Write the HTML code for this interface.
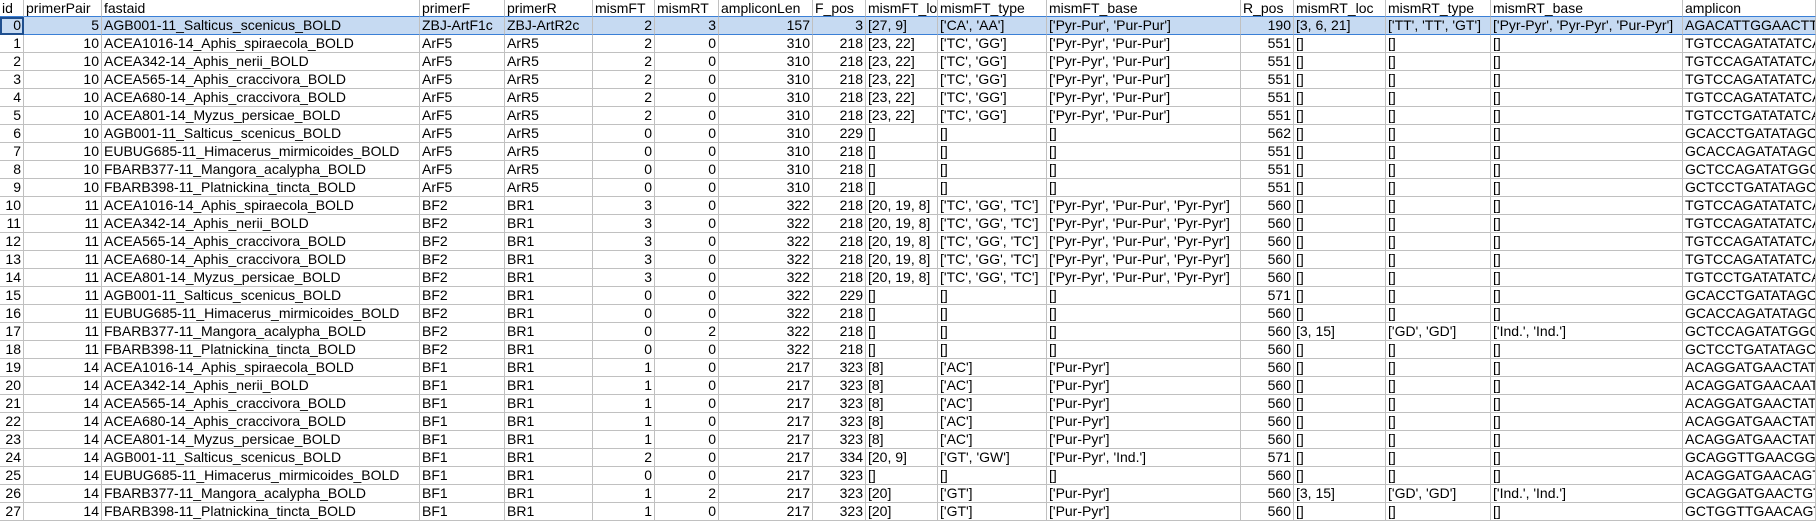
<!DOCTYPE html>
<html><head><meta charset="utf-8">
<style>
html,body{margin:0;padding:0;background:#fff;width:1816px;height:522px;overflow:hidden}
#sheet{position:absolute;left:0;top:0;width:1816px;height:522px;overflow:hidden;font-family:"Liberation Sans",sans-serif;font-size:14px;color:#000}
.c{position:absolute;box-sizing:border-box;border-right:1px solid #c0c0c0;border-bottom:1px solid #c0c0c0;white-space:nowrap;overflow:hidden;padding:0 2px;line-height:17px}
.n{text-align:right}
.sel{background:#c6daf2}
.selrow{border-bottom:1px solid #3a7fd6}
.hdr{border-bottom:1px solid #3a7fd6}
.cur{outline:2px solid #1f4f8f;outline-offset:-2px}
</style></head>
<body>
<div id="sheet"></div>
<script>
const headers=["id","primerPair","fastaid","primerF","primerR","mismFT","mismRT","ampliconLen","F_pos","mismFT_loc","mismFT_type","mismFT_base","R_pos","mismRT_loc","mismRT_type","mismRT_base","amplicon"];
const colX=[0,24,102,420,505,593,655,719,813,866,938,1047,1241,1294,1386,1491,1683,1816];
const numeric=[1,1,0,0,0,1,1,1,1,0,0,0,1,0,0,0,0];
const rows=[
[0,5,"AGB001-11_Salticus_scenicus_BOLD","ZBJ-ArtF1c","ZBJ-ArtR2c",2,3,157,3,"[27, 9]","['CA', 'AA']","['Pyr-Pur', 'Pur-Pur']",190,"[3, 6, 21]","['TT', 'TT', 'GT']","['Pyr-Pyr', 'Pyr-Pyr', 'Pur-Pyr']","AGACATTGGAACTTTAT"],
[1,10,"ACEA1016-14_Aphis_spiraecola_BOLD","ArF5","ArR5",2,0,310,218,"[23, 22]","['TC', 'GG']","['Pyr-Pyr', 'Pur-Pur']",551,"[]","[]","[]","TGTCCAGATATATCAA"],
[2,10,"ACEA342-14_Aphis_nerii_BOLD","ArF5","ArR5",2,0,310,218,"[23, 22]","['TC', 'GG']","['Pyr-Pyr', 'Pur-Pur']",551,"[]","[]","[]","TGTCCAGATATATCAA"],
[3,10,"ACEA565-14_Aphis_craccivora_BOLD","ArF5","ArR5",2,0,310,218,"[23, 22]","['TC', 'GG']","['Pyr-Pyr', 'Pur-Pur']",551,"[]","[]","[]","TGTCCAGATATATCAA"],
[4,10,"ACEA680-14_Aphis_craccivora_BOLD","ArF5","ArR5",2,0,310,218,"[23, 22]","['TC', 'GG']","['Pyr-Pyr', 'Pur-Pur']",551,"[]","[]","[]","TGTCCAGATATATCAA"],
[5,10,"ACEA801-14_Myzus_persicae_BOLD","ArF5","ArR5",2,0,310,218,"[23, 22]","['TC', 'GG']","['Pyr-Pyr', 'Pur-Pur']",551,"[]","[]","[]","TGTCCTGATATATCAA"],
[6,10,"AGB001-11_Salticus_scenicus_BOLD","ArF5","ArR5",0,0,310,229,"[]","[]","[]",562,"[]","[]","[]","GCACCTGATATAGCAA"],
[7,10,"EUBUG685-11_Himacerus_mirmicoides_BOLD","ArF5","ArR5",0,0,310,218,"[]","[]","[]",551,"[]","[]","[]","GCACCAGATATAGCAA"],
[8,10,"FBARB377-11_Mangora_acalypha_BOLD","ArF5","ArR5",0,0,310,218,"[]","[]","[]",551,"[]","[]","[]","GCTCCAGATATGGCAA"],
[9,10,"FBARB398-11_Platnickina_tincta_BOLD","ArF5","ArR5",0,0,310,218,"[]","[]","[]",551,"[]","[]","[]","GCTCCTGATATAGCAA"],
[10,11,"ACEA1016-14_Aphis_spiraecola_BOLD","BF2","BR1",3,0,322,218,"[20, 19, 8]","['TC', 'GG', 'TC']","['Pyr-Pyr', 'Pur-Pur', 'Pyr-Pyr']",560,"[]","[]","[]","TGTCCAGATATATCAA"],
[11,11,"ACEA342-14_Aphis_nerii_BOLD","BF2","BR1",3,0,322,218,"[20, 19, 8]","['TC', 'GG', 'TC']","['Pyr-Pyr', 'Pur-Pur', 'Pyr-Pyr']",560,"[]","[]","[]","TGTCCAGATATATCAA"],
[12,11,"ACEA565-14_Aphis_craccivora_BOLD","BF2","BR1",3,0,322,218,"[20, 19, 8]","['TC', 'GG', 'TC']","['Pyr-Pyr', 'Pur-Pur', 'Pyr-Pyr']",560,"[]","[]","[]","TGTCCAGATATATCAA"],
[13,11,"ACEA680-14_Aphis_craccivora_BOLD","BF2","BR1",3,0,322,218,"[20, 19, 8]","['TC', 'GG', 'TC']","['Pyr-Pyr', 'Pur-Pur', 'Pyr-Pyr']",560,"[]","[]","[]","TGTCCAGATATATCAA"],
[14,11,"ACEA801-14_Myzus_persicae_BOLD","BF2","BR1",3,0,322,218,"[20, 19, 8]","['TC', 'GG', 'TC']","['Pyr-Pyr', 'Pur-Pur', 'Pyr-Pyr']",560,"[]","[]","[]","TGTCCTGATATATCAA"],
[15,11,"AGB001-11_Salticus_scenicus_BOLD","BF2","BR1",0,0,322,229,"[]","[]","[]",571,"[]","[]","[]","GCACCTGATATAGCAA"],
[16,11,"EUBUG685-11_Himacerus_mirmicoides_BOLD","BF2","BR1",0,0,322,218,"[]","[]","[]",560,"[]","[]","[]","GCACCAGATATAGCAA"],
[17,11,"FBARB377-11_Mangora_acalypha_BOLD","BF2","BR1",0,2,322,218,"[]","[]","[]",560,"[3, 15]","['GD', 'GD']","['Ind.', 'Ind.']","GCTCCAGATATGGCAA"],
[18,11,"FBARB398-11_Platnickina_tincta_BOLD","BF2","BR1",0,0,322,218,"[]","[]","[]",560,"[]","[]","[]","GCTCCTGATATAGCAA"],
[19,14,"ACEA1016-14_Aphis_spiraecola_BOLD","BF1","BR1",1,0,217,323,"[8]","['AC']","['Pur-Pyr']",560,"[]","[]","[]","ACAGGATGAACTATAA"],
[20,14,"ACEA342-14_Aphis_nerii_BOLD","BF1","BR1",1,0,217,323,"[8]","['AC']","['Pur-Pyr']",560,"[]","[]","[]","ACAGGATGAACAATAA"],
[21,14,"ACEA565-14_Aphis_craccivora_BOLD","BF1","BR1",1,0,217,323,"[8]","['AC']","['Pur-Pyr']",560,"[]","[]","[]","ACAGGATGAACTATAA"],
[22,14,"ACEA680-14_Aphis_craccivora_BOLD","BF1","BR1",1,0,217,323,"[8]","['AC']","['Pur-Pyr']",560,"[]","[]","[]","ACAGGATGAACTATAA"],
[23,14,"ACEA801-14_Myzus_persicae_BOLD","BF1","BR1",1,0,217,323,"[8]","['AC']","['Pur-Pyr']",560,"[]","[]","[]","ACAGGATGAACTATAA"],
[24,14,"AGB001-11_Salticus_scenicus_BOLD","BF1","BR1",2,0,217,334,"[20, 9]","['GT', 'GW']","['Pur-Pyr', 'Ind.']",571,"[]","[]","[]","GCAGGTTGAACGGTAA"],
[25,14,"EUBUG685-11_Himacerus_mirmicoides_BOLD","BF1","BR1",0,0,217,323,"[]","[]","[]",560,"[]","[]","[]","ACAGGATGAACAGTAA"],
[26,14,"FBARB377-11_Mangora_acalypha_BOLD","BF1","BR1",1,2,217,323,"[20]","['GT']","['Pur-Pyr']",560,"[3, 15]","['GD', 'GD']","['Ind.', 'Ind.']","GCAGGATGAACTGTAA"],
[27,14,"FBARB398-11_Platnickina_tincta_BOLD","BF1","BR1",1,0,217,323,"[20]","['GT']","['Pur-Pyr']",560,"[]","[]","[]","GCTGGTTGAACAGTAA"]
];
const sheet=document.getElementById('sheet');
const HDR=17, RH=18;
function cell(r,c,text,top,h){
  const d=document.createElement('div');
  d.className='c';
  d.style.left=colX[c]+'px';
  d.style.top=top+'px';
  d.style.width=(colX[c+1]-colX[c])+'px';
  d.style.height=h+'px';
  d.textContent=text;
  return d;
}
headers.forEach((h,c)=>{
  const d=cell(-1,c,h,0,HDR);
  d.classList.add('hdr');
  
  
  sheet.appendChild(d);
});
rows.forEach((row,r)=>{
  row.forEach((v,c)=>{
    const d=cell(r,c,String(v),HDR+r*RH,RH);
    if(numeric[c]) d.classList.add('n');
    if(r===0){d.classList.add('sel');d.classList.add('selrow');}
    if(r===0&&c===0) d.classList.add('cur');
    
    
    sheet.appendChild(d);
  });
});
</script>
</body></html>
